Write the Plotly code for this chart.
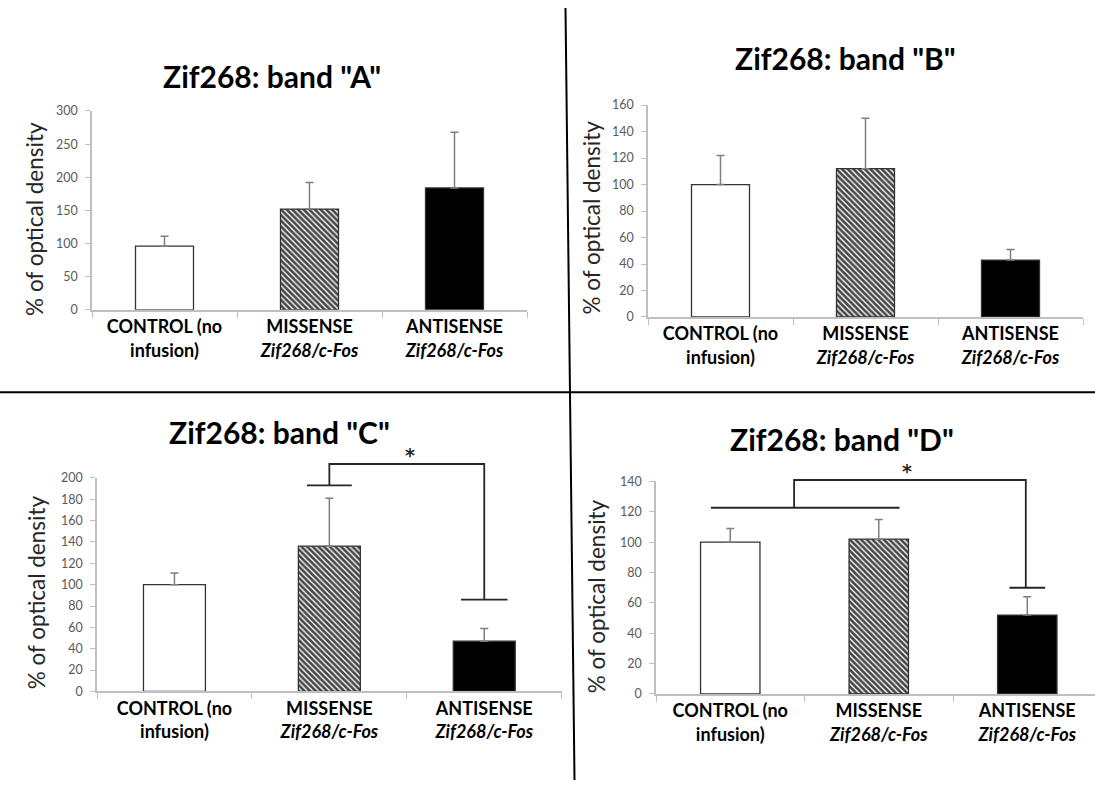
import plotly.graph_objects as go

# ---- data -------------------------------------------------------------
groups = ["CONTROL (no infusion)", "MISSENSE Zif268/c-Fos", "ANTISENSE Zif268/c-Fos"]
group_ticks = [
    "<b>CONTROL (no<br>infusion)</b>",
    "<b>MISSENSE<br><i>Zif268/c-Fos</i></b>",
    "<b>ANTISENSE<br><i>Zif268/c-Fos</i></b>",
]
bands = ["A", "B", "C", "D"]

band_a_mean = [96, 152, 184]
band_a_err = [15, 40, 84]
band_b_mean = [100, 112, 43]
band_b_err = [22, 38, 8]
band_c_mean = [100, 136, 47]
band_c_err = [11, 45, 12]
band_d_mean = [100, 102, 52]
band_d_err = [9, 13, 12]

y_max = [300, 160, 200, 140]
y_step = [50, 20, 20, 20]

# ---- styling / layout per panel -----------------------------------------
W, H = 1095, 787
FONT = "Lato, 'Open Sans', sans-serif"
AXIS_GREY = "#bfbfbf"
fills = ["white", "white", "black"]
hatches = ["", "\\", ""]

# pixel boxes of the plotting areas: (left, right, top, bottom)
boxes = [
    (92, 527, 105, 307.7),
    (648, 1083, 99, 315),
    (97, 561.7, 479, 696.7),
    (656, 1095, 482.7, 699.3),
]
# x range of each panel (last panel runs off the right edge)
x_ranges = [[-0.5, 2.5], [-0.5, 2.5], [-0.5, 2.5], [-0.5, 2.456]]
title_pos = [(271.7, 69), (845, 51), (279, 432.5), (841.7, 439)]
ytitle_pos = [(35, 215), (591.7, 214), (36.7, 596), (596.7, 600)]

means = [band_a_mean, band_b_mean, band_c_mean, band_d_mean]
errs = [band_a_err, band_b_err, band_c_err, band_d_err]

fig = go.Figure()
shapes = []
annotations = []


def px_to_paper(x, y):
    return x / W, 1 - y / H


def data_to_paper(i, xv, yv):
    l, r, t, b = boxes[i]
    x0, x1 = x_ranges[i]
    px = l + (xv - x0) / (x1 - x0) * (r - l)
    py = b - yv / y_max[i] * (b - t)
    return px_to_paper(px, py)


for i, band in enumerate(bands):
    n = "" if i == 0 else str(i + 1)
    l, r, t, b = boxes[i]
    (dx0, dy1), (dx1, dy0) = px_to_paper(l, t), px_to_paper(r, b)
    fig.add_trace(go.Bar(
        x=group_ticks, y=means[i],
        width=0.4,
        marker=dict(
            color=fills,
            line=dict(color="#333333", width=1.3),
            pattern=dict(shape=hatches, fgcolor="black", fgopacity=1,
                         size=4, solidity=0.65),
        ),
        error_y=dict(type="data", symmetric=False, array=errs[i],
                     arrayminus=[0, 0, 0], color="#7f7f7f", thickness=1.5, width=4),
        xaxis="x" + n, yaxis="y" + n, showlegend=False, name=band,
    ))
    fig.update_layout(**{
        "xaxis" + n: dict(
            domain=[dx0, min(dx1, 1.0)], anchor="y" + n, type="category",
            range=x_ranges[i], tickson="boundaries", ticks="outside", ticklen=6,
            tickcolor=AXIS_GREY, showline=True, linecolor=AXIS_GREY, linewidth=1.5,
            showgrid=False, tickfont=dict(family=FONT, size=18, color="black"),
            fixedrange=True,
        ),
        "yaxis" + n: dict(
            domain=[dy0, dy1], anchor="x" + n, range=[0, y_max[i]], dtick=y_step[i],
            ticks="outside", ticklen=5, tickcolor=AXIS_GREY, showline=True,
            linecolor=AXIS_GREY, linewidth=1.5, showgrid=False, zeroline=False,
            tickfont=dict(family=FONT, size=12.5, color="#595959"),
            ticklabelstandoff=5, fixedrange=True,
        ),
    })
    tx, ty = px_to_paper(*title_pos[i])
    annotations.append(dict(
        text=f'<b>Zif268: band "{band}"</b>', x=tx, y=ty, xref="paper", yref="paper",
        showarrow=False, font=dict(family=FONT, size=30, color="black"),
        xanchor="center", yanchor="middle",
    ))
    ax, ay = px_to_paper(*ytitle_pos[i])
    annotations.append(dict(
        text="% of optical density", x=ax, y=ay, xref="paper", yref="paper",
        showarrow=False, textangle=-90, font=dict(family=FONT, size=22.5, color="#262626"),
        xanchor="center", yanchor="middle",
    ))

# ---- significance brackets (category position, value) ------------------
# panel, left leg x, left leg bottom, left bar span, right leg x, right leg bottom,
# right bar span, top, star x
brackets = [
    (2, 1.0, 193, (0.855, 1.145), 2.0, 86, (1.85, 2.15), 213, 1.52),
    (3, 0.43, 122.7, (-0.13, 1.14), 1.99, 70, (1.88, 2.12), 141, 1.24),
]
for p, lx, ly, lspan, rx, ry, rspan, top, sx in brackets:
    pts = [data_to_paper(p, lx, ly), data_to_paper(p, lx, top),
           data_to_paper(p, rx, top), data_to_paper(p, rx, ry)]
    path = "M " + " L ".join(f"{x:.5f},{y:.5f}" for x, y in pts)
    shapes.append(dict(type="path", path=path, xref="paper", yref="paper",
                       line=dict(color="#262626", width=1.8)))
    for (a, bb), yy in ((lspan, ly), (rspan, ry)):
        x0, y0 = data_to_paper(p, a, yy)
        x1, _ = data_to_paper(p, bb, yy)
        shapes.append(dict(type="line", x0=x0, x1=x1, y0=y0, y1=y0,
                           xref="paper", yref="paper",
                           line=dict(color="#262626", width=1.8)))
    sxp, syp = data_to_paper(p, sx, top)
    annotations.append(dict(text="<b>*</b>", x=sxp, y=syp, xref="paper", yref="paper",
                            showarrow=False, yanchor="middle", yshift=9,
                            font=dict(family="DejaVu Sans", size=19, color="#262626")))

# ---- panel dividers -----------------------------------------------------
shapes.append(dict(type="line", xref="paper", yref="paper",
                   x0=565.5 / W, y0=1, x1=574.5 / W, y1=0,
                   line=dict(color="black", width=2)))
shapes.append(dict(type="line", xref="paper", yref="paper",
                   x0=0, y0=1 - 391.7 / H, x1=1, y1=1 - 391.7 / H,
                   line=dict(color="black", width=2)))

fig.update_layout(
    width=W, height=H, margin=dict(l=0, r=0, t=0, b=0),
    paper_bgcolor="white", plot_bgcolor="white",
    bargap=0.6, shapes=shapes, annotations=annotations,
    font=dict(family=FONT),
)

fig.write_html("out.html", config={"displayModeBar": False})
